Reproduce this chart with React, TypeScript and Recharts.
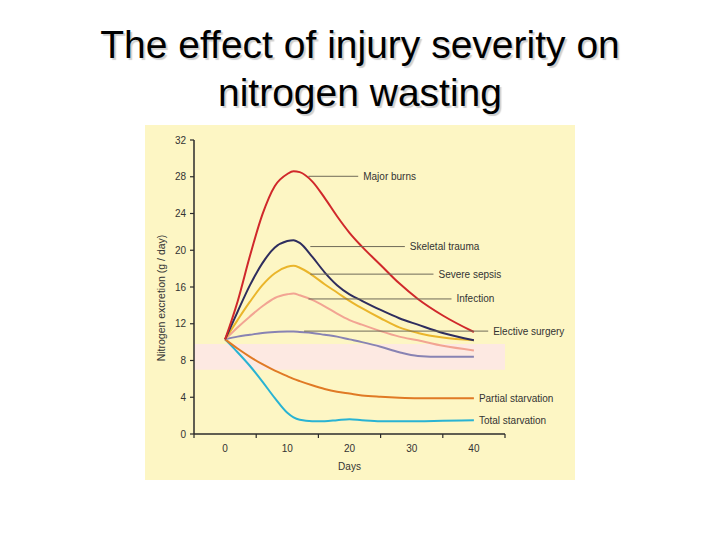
import React from 'react';
import {
  LineChart, Line, XAxis, YAxis, ReferenceArea, ReferenceLine, ReferenceDot
} from 'recharts';

// days after injury, shared by all series
const days = [0, 2, 4, 6, 8, 10, 11, 12, 14, 16, 18, 20, 22, 25, 28, 31, 35, 40];

// nitrogen excretion, g / day
const majorBurns = [10.3, 14.4, 19.4, 23.9, 27.0, 28.3, 28.6, 28.5, 27.5, 25.7, 23.7, 21.9, 20.4, 18.4, 16.4, 14.7, 12.9, 11.1];
const skeletalTrauma = [10.3, 13.3, 16.2, 18.6, 20.3, 21.0, 21.1, 20.8, 19.3, 17.6, 16.2, 15.2, 14.5, 13.5, 12.6, 11.9, 11.0, 10.2];
const severeSepsis = [10.3, 12.4, 14.4, 16.2, 17.5, 18.2, 18.3, 18.1, 17.3, 16.3, 15.4, 14.5, 13.7, 12.6, 11.6, 11.0, 10.5, 10.2];
const infection = [10.3, 11.6, 12.8, 13.9, 14.8, 15.2, 15.3, 15.1, 14.6, 13.9, 13.1, 12.4, 11.9, 11.2, 10.6, 10.2, 9.6, 9.1];
const electiveSurgery = [10.3, 10.6, 10.8, 11.0, 11.1, 11.15, 11.15, 11.1, 11.0, 10.8, 10.6, 10.3, 10.0, 9.5, 8.9, 8.5, 8.4, 8.4];
const partialStarvation = [10.3, 9.3, 8.4, 7.6, 6.9, 6.3, 6.0, 5.75, 5.3, 4.9, 4.6, 4.4, 4.2, 4.05, 3.95, 3.9, 3.9, 3.9];
const totalStarvation = [10.3, 8.9, 7.4, 5.7, 3.9, 2.3, 1.8, 1.55, 1.4, 1.4, 1.5, 1.6, 1.5, 1.4, 1.4, 1.4, 1.45, 1.5];

const yTicks = [0, 4, 8, 12, 16, 20, 24, 28, 32];
const xTicks = [-5, 0, 5, 10, 15, 20, 25, 30, 35, 40, 45];

// normal range band
const normalLow = 7;
const normalHigh = 9.8;

// leader lines: [label, fromDay, toDay, level]
const leaders: [string, number, number, number][] = [
  ['Major burns', 13.4, 21.4, 28.05],
  ['Skeletal trauma', 13.7, 28.9, 20.4],
  ['Severe sepsis', 13.7, 33.5, 17.4],
  ['Infection', 13.4, 36.4, 14.7],
  ['Elective surgery', 12.7, 42.3, 11.2],
];

const data = days.map((d, i) => ({
  day: d,
  burns: majorBurns[i],
  trauma: skeletalTrauma[i],
  sepsis: severeSepsis[i],
  infection: infection[i],
  elective: electiveSurgery[i],
  partial: partialStarvation[i],
  total: totalStarvation[i],
}));

const FONT = '"Liberation Sans", Arial, Helvetica, sans-serif';
const AXIS = '#2b2b2b';
const TEXT = '#333333';

const series = [
  { key: 'total', color: '#29b3d3' },
  { key: 'partial', color: '#e07a25' },
  { key: 'elective', color: '#8883b3' },
  { key: 'infection', color: '#f2a493' },
  { key: 'sepsis', color: '#eab52b' },
  { key: 'trauma', color: '#2e2d5e' },
  { key: 'burns', color: '#d0282b' },
];

// odd ticks get a small mark, even ones get a label
const DayTick = (props: any) => {
  const { x, y, payload } = props;
  if (payload.value % 10 !== 0) {
    return <line x1={x} y1={y} x2={x} y2={y + 4} stroke={AXIS} strokeWidth={1.2} />;
  }
  return (
    <text x={x} y={y + 14} textAnchor="middle" dominantBaseline="central" fontSize={10} fill={TEXT} fontFamily={FONT}>
      {payload.value}
    </text>
  );
};

export default function App() {
  const last = days.length - 1;
  return (
    <div style={{ position: 'absolute', left: 0, top: 0, width: 720, height: 540, background: '#ffffff', fontFamily: FONT }}>
      <div style={{
        position: 'absolute', left: 0, top: 21, width: 720, textAlign: 'center',
        fontSize: 39, lineHeight: '48px', color: '#000', textShadow: '2px 2px 1px #cfcfcf'
      }}>
        The effect of injury severity on<br />nitrogen wasting
      </div>
      <div style={{ position: 'absolute', left: 145, top: 125, width: 430, height: 355, background: '#fdf6c4' }} />
      <div style={{ position: 'absolute', left: 0, top: 0 }}>
        <LineChart width={720} height={540} data={data} margin={{ top: 140, right: 215, bottom: 76, left: 154 }}>
          <XAxis
            dataKey="day" type="number" domain={[-5, 45]} ticks={xTicks}
            tickLine={false} tickSize={0} tickMargin={0} tick={<DayTick />} height={30}
            axisLine={{ stroke: AXIS, strokeWidth: 1.5 }}
            label={{
              content: (p: any) => (
                <text x={p.viewBox.x + p.viewBox.width / 2} y={p.viewBox.y + 32} textAnchor="middle"
                  dominantBaseline="central" fontSize={10} fill={TEXT} fontFamily={FONT}>Days</text>
              )
            }}
          />
          <YAxis
            type="number" domain={[0, 32]} ticks={yTicks} width={40} tickSize={4} tickMargin={4}
            tick={{ fontSize: 10, fill: TEXT, fontFamily: FONT }}
            tickLine={{ stroke: AXIS, strokeWidth: 1.2 }}
            axisLine={{ stroke: AXIS, strokeWidth: 1.5 }}
            label={{
              content: (p: any) => {
                const cx = p.viewBox.x + 7;
                const cy = p.viewBox.y + p.viewBox.height / 2 + 11;
                return (
                  <text x={cx} y={cy} transform={`rotate(-90 ${cx} ${cy})`} textAnchor="middle"
                    dominantBaseline="central" fontSize={10.5} fill={TEXT} fontFamily={FONT}>
                    Nitrogen excretion (g / day)
                  </text>
                );
              }
            }}
          />
          <ReferenceArea x1={-5} x2={45} y1={normalLow} y2={normalHigh} fill="#fde9e2" fillOpacity={1} stroke="none" />
          {series.map(s => (
            <Line key={s.key} dataKey={s.key} type="monotone" stroke={s.color} strokeWidth={2}
              dot={false} activeDot={false} isAnimationActive={false} />
          ))}
          {leaders.map(([name, x1, x2, y]) => (
            <ReferenceLine key={name} segment={[{ x: x1, y }, { x: x2, y }]} stroke="#6f6a58" strokeWidth={1}
              label={{ value: name, position: 'right', offset: 5, fontSize: 10, fill: TEXT, fontFamily: FONT }} />
          ))}
          <ReferenceDot x={days[last]} y={partialStarvation[last]} r={1} fill="none" stroke="none"
            label={{ value: 'Partial starvation', position: 'right', offset: 4, fontSize: 10, fill: TEXT, fontFamily: FONT }} />
          <ReferenceDot x={days[last]} y={totalStarvation[last]} r={1} fill="none" stroke="none"
            label={{ value: 'Total starvation', position: 'right', offset: 4, fontSize: 10, fill: TEXT, fontFamily: FONT }} />
        </LineChart>
      </div>
    </div>
  );
}
